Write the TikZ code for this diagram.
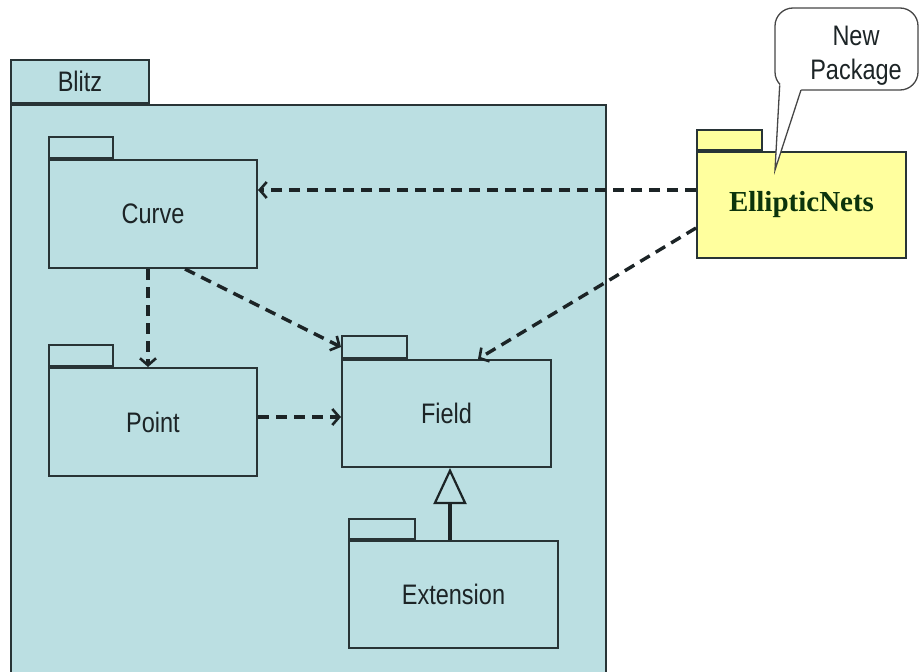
\documentclass[tikz,border=0pt]{standalone}
\usepackage{fontspec}
\setmainfont{Liberation Sans}
\newfontfamily\serifbold{Liberation Serif}
\usetikzlibrary{arrows.meta}

\definecolor{pkgblue}{RGB}{187,223,226}
\definecolor{pkgyellow}{RGB}{255,255,158}
\definecolor{edge}{RGB}{40,52,54}
\definecolor{ink}{RGB}{28,36,38}
\definecolor{netgreen}{RGB}{12,52,12}
\definecolor{bubbleedge}{RGB}{70,70,70}

% labels are set slightly taller than wide
\newcommand{\tallx}[1]{\scalebox{1}[1.2]{#1}}

\begin{document}
\begin{tikzpicture}[x=1pt, y=-1pt,
  pkg/.style={draw=edge, line width=2pt, fill=pkgblue, inner sep=0pt,
    font=\fontsize{23.5}{28}\selectfont, text=ink},
  pkgtab/.style={pkg, anchor=south west},
  dep/.style={draw=ink, line width=3.4pt, dash pattern=on 11pt off 7pt,
    -{Straight Barb[length=7pt, width=16pt, line width=2.6pt]}},
  gen/.style={draw=ink, line width=3.2pt,
    -{Triangle[length=36pt, width=33pt, fill=pkgblue, line width=2.2pt]}},
  bubble/.style={draw=bubbleedge, fill=white, line width=1.3pt,
    rounded corners=18pt, inner sep=0pt}
]
\useasboundingbox (0,0) rectangle (921,672);

% enclosing package
\node[pkg, minimum width=595pt, minimum height=590pt, anchor=north west]
  (blitz) at (10,104) {};
\node[pkgtab, minimum width=138pt, minimum height=43pt] (blitztab)
  at (blitz.north west) {\tallx{Blitz}};

% inner packages
\node[pkg, minimum width=208pt, minimum height=108pt] (curve) at (153,214) {\tallx{Curve}};
\node[pkgtab, minimum width=64pt, minimum height=21pt] (curvetab) at (curve.north west) {};

\node[pkg, minimum width=208pt, minimum height=108pt] (point) at (153,422) {\tallx{Point}};
\node[pkgtab, minimum width=64pt, minimum height=21pt] (pointtab) at (point.north west) {};

\node[pkg, minimum width=209pt, minimum height=107pt] (field) at (446.5,413.5) {\tallx{Field}};
\node[pkgtab, minimum width=65pt, minimum height=22pt] (fieldtab) at (field.north west) {};

\node[pkg, minimum width=209pt, minimum height=107pt] (ext) at (453.5,594.5) {\tallx{Extension}};
\node[pkgtab, minimum width=66pt, minimum height=20pt] (exttab) at (ext.north west) {};

% new package
\node[pkg, fill=pkgyellow, minimum width=209pt, minimum height=106pt,
  font=\serifbold\bfseries\fontsize{29}{32}\selectfont, text=netgreen]
  (ell) at (801.5,205) {EllipticNets};
\node[pkgtab, fill=pkgyellow, minimum width=65pt, minimum height=20pt] (elltab) at (ell.north west) {};

% dependencies
\draw[dep] (ell.west |- 0,190) -- (curve.east |- 0,190);
\draw[dep] (ell.west |- 0,228) -- ([xshift=31.5pt]field.north);
\draw[dep] ([xshift=-5pt]curve.south) -- ([xshift=-5pt]point.north);
\draw[dep] ([xshift=32pt]curve.south) -- (fieldtab.west);
\draw[dep] (point.east |- 0,417) -- (field.west |- 0,417);

% generalisation
\draw[gen] ([xshift=-3.5pt]ext.north) -- ([xshift=3.5pt]field.south);

% speech bubble
\node[bubble, minimum width=143pt, minimum height=82pt] (note) at (846.5,49) {};
\coordinate (tip) at (775,170);
\coordinate (b1) at (779.7,85.3);
\coordinate (b2) at (801,90);
\fill[white] (b1) -- (tip) -- (b2) -- (802,86.5) -- (790,86.5) -- (782,82) -- cycle;
\draw[draw=bubbleedge, line width=1.3pt, line join=miter] (b1) -- (tip) -- (b2);
\node[font=\fontsize{23.5}{34}\selectfont, text=ink, align=center, inner sep=0pt]
  (notetext) at (856,56) {\tallx{New}\\\tallx{Package}};
\end{tikzpicture}
\end{document}
